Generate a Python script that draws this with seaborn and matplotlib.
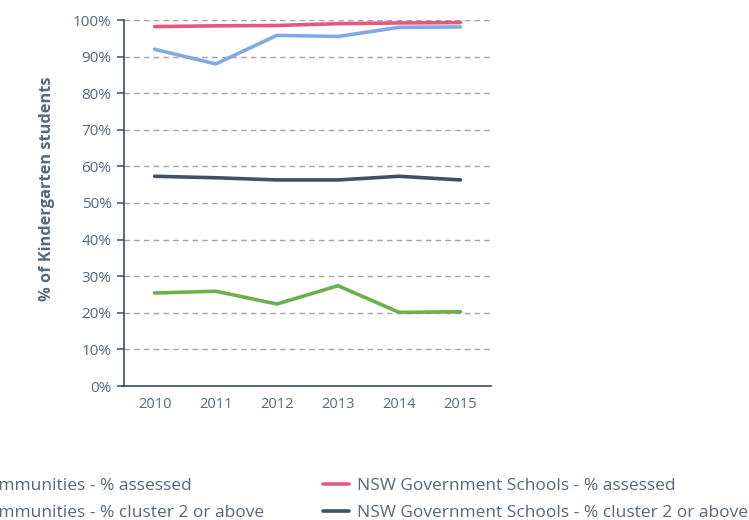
import matplotlib
matplotlib.use("Agg")
import matplotlib.pyplot as plt
from matplotlib.ticker import FixedLocator, FuncFormatter
import seaborn as sns
import pandas as pd

years = ["2010", "2011", "2012", "2013", "2014", "2015"]
cc_assessed = [92.0, 88.0, 95.8, 95.5, 98.0, 98.1]
cc_cluster2 = [25.4, 25.9, 22.4, 27.4, 20.1, 20.3]
nsw_assessed = [98.2, 98.4, 98.5, 99.0, 99.2, 99.3]
nsw_cluster2 = [57.3, 56.9, 56.3, 56.3, 57.3, 56.3]

series_names = [
    "Connected Communities - % assessed",
    "Connected Communities - % cluster 2 or above",
    "NSW Government Schools - % assessed",
    "NSW Government Schools - % cluster 2 or above",
]
series_values = [cc_assessed, cc_cluster2, nsw_assessed, nsw_cluster2]
colors = ["#80aae0", "#6ab04c", "#e8567f", "#3f5166"]

df = pd.DataFrame(
    [(y, v, name) for name, vals in zip(series_names, series_values)
     for y, v in zip(years, vals)],
    columns=["year", "value", "series"],
)

sns.set_theme(style="white")
plt.rcParams["font.family"] = ["Open Sans", "DejaVu Sans"]

text_col = "#56687b"
axis_col = "#3b4d61"

fig = plt.figure(figsize=(7.49, 5.20), dpi=100)
ax = fig.add_axes([124 / 749, 1 - 386 / 520, (491 - 124) / 749, (386 - 20) / 520])

sns.lineplot(data=df, x="year", y="value", hue="series", hue_order=series_names,
             palette=colors, linewidth=2.6, sort=False, ax=ax, legend=True)

ax.set_xlim(-0.5, len(years) - 0.5)
ax.set_ylim(0, 100)
ax.set_yticks(range(0, 101, 10))
ax.yaxis.set_major_formatter(FuncFormatter(lambda v, p: f"{int(v)}%"))
ax.xaxis.set_minor_locator(FixedLocator([i - 0.5 for i in range(len(years) + 1)]))
ax.tick_params(axis="x", which="major", length=0, pad=8, labelsize=10.5, labelcolor=text_col)
ax.tick_params(axis="x", which="minor", length=5, width=1.1, color=axis_col, direction="out")
ax.tick_params(axis="y", length=5, width=1.1, color=axis_col, pad=4, labelsize=11,
               labelcolor=text_col, left=True)

for y in range(10, 101, 10):
    ax.axhline(y, color="#9ea3ad", lw=1.0, ls=(0, (4, 3)), zorder=0)

for s in ["top", "right"]:
    ax.spines[s].set_visible(False)
for s in ["left", "bottom"]:
    ax.spines[s].set_color(axis_col)
    ax.spines[s].set_linewidth(1.2)
ax.spines["bottom"].set_bounds(-0.53, len(years) - 0.5)

ax.set_xlabel("")
ax.set_ylabel("% of Kindergarten students", fontsize=11.8, fontweight="bold", color=text_col)
ax.yaxis.set_label_coords(-0.188, 0.54)

handles, labels = ax.get_legend_handles_labels()
ax.get_legend().remove()
leg = fig.legend(handles, labels, ncol=2, loc="upper right",
                 bbox_to_anchor=(748 / 749, 1 - 478 / 520), frameon=False,
                 fontsize=12.5, handlelength=1.5, handletextpad=0.46,
                 columnspacing=3.4, labelspacing=0.62, borderaxespad=0, borderpad=0)
for t in leg.get_texts():
    t.set_color(text_col)
for h in leg.get_lines():
    h.set_linewidth(2.6)

fig.savefig("out.png", dpi=100)
